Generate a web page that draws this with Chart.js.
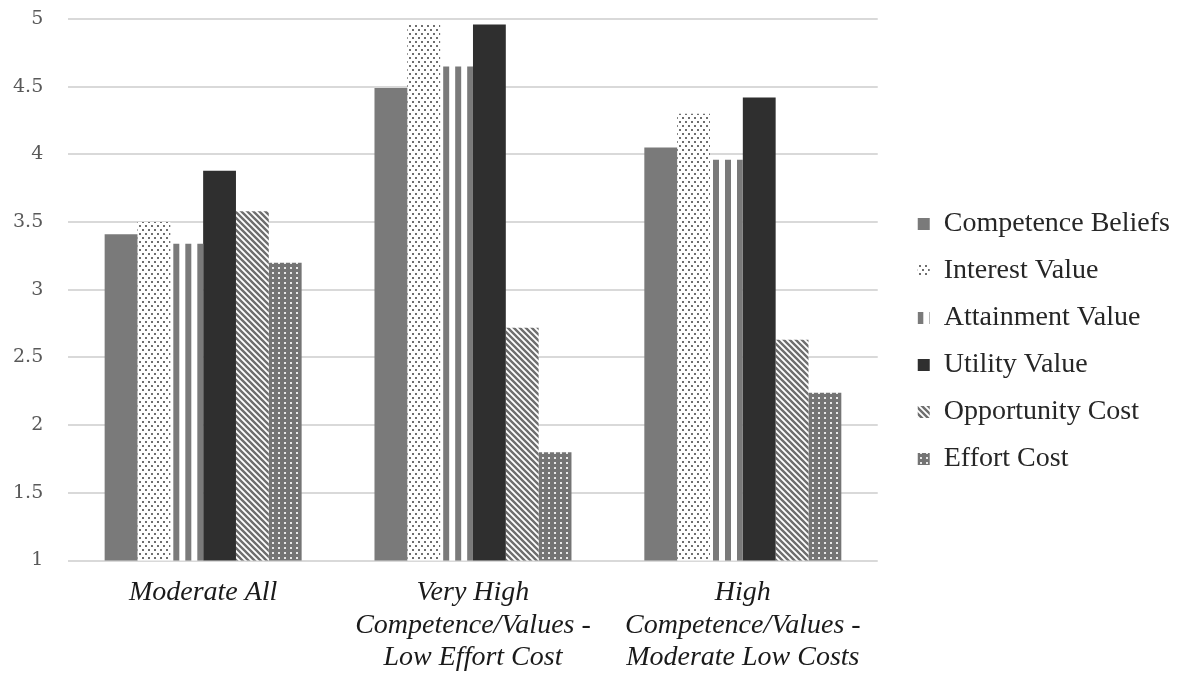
<!DOCTYPE html>
<html>
<head>
<meta charset="utf-8">
<script src="https://cdn.jsdelivr.net/npm/chart.js@4"></script>
<style>
  html, body { margin: 0; padding: 0; background: #fff; }
  #wrap { position: relative; width: 1183px; height: 677px; }
</style>
</head>
<body>
<div id="wrap"><canvas id="chart"></canvas></div>
<script>
const categories = [
    ['Moderate All'],
    ['Very High', 'Competence/Values -', 'Low Effort Cost'],
    ['High', 'Competence/Values -', 'Moderate Low Costs']
];
const seriesNames = ['Competence Beliefs', 'Interest Value', 'Attainment Value', 'Utility Value', 'Opportunity Cost', 'Effort Cost'];
const competence = [3.41, 4.49, 4.05];
const interest = [3.50, 4.96, 4.30];
const attainment = [3.34, 4.65, 3.96];
const utility = [3.88, 4.96, 4.42];
const opportunity = [3.58, 2.72, 2.63];
const effort = [3.20, 1.80, 2.24];
const yTicks = [1, 1.5, 2, 2.5, 3, 3.5, 4, 4.5, 5];

const CAT_PCT = 0.73;

// small tiles used as bar fills
function makeTile(w, h, draw) {
    const c = document.createElement('canvas');
    c.width = w;
    c.height = h;
    draw(c.getContext('2d'));
    return c;
}
function toPattern(tile) {
    return document.createElement('canvas').getContext('2d').createPattern(tile, 'repeat');
}

const solidGray = '#7a7a7a';
const dots = toPattern(makeTile(6, 8, function(g) {
    g.fillStyle = '#fff';
    g.fillRect(0, 0, 6, 8);
    g.fillStyle = '#6f6f6f';
    g.fillRect(1, 1, 2, 2);
    g.fillRect(4, 5, 2, 2);
}));
const stripeTile = makeTile(12, 4, function(g) {
    g.fillStyle = '#fff';
    g.fillRect(0, 0, 12, 4);
    g.fillStyle = '#7a7a7a';
    g.fillRect(3, 0, 6, 4);
});
const darkSolid = '#2f2f2f';
const diag = toPattern(makeTile(6, 6, function(g) {
    g.fillStyle = '#fff';
    g.fillRect(0, 0, 6, 6);
    g.strokeStyle = '#6e6e6e';
    g.lineWidth = 2.4;
    g.beginPath();
    g.moveTo(-3, -3); g.lineTo(9, 9);
    g.moveTo(-3, 3); g.lineTo(3, 9);
    g.moveTo(3, -3); g.lineTo(9, 3);
    g.stroke();
}));
const grid = toPattern(makeTile(6, 5, function(g) {
    g.fillStyle = '#747474';
    g.fillRect(0, 0, 6, 5);
    g.fillStyle = '#e8e8e8';
    g.fillRect(2, 2, 2, 2);
}));

// vertical stripes start at the left edge of each bar
function stripes(ctx) {
    const p = toPattern(stripeTile);
    const x = ctx.chart.scales.x;
    if (ctx.dataIndex === undefined || !x || !x.width) return p;
    const catW = x.width / categories.length;
    const barW = catW * CAT_PCT / seriesNames.length;
    const left = x.getPixelForValue(ctx.dataIndex) - catW * CAT_PCT / 2 + ctx.datasetIndex * barW;
    p.setTransform(new DOMMatrix().translate(left, 0));
    return p;
}

const fills = [solidGray, dots, stripes, darkSolid, diag, grid];
const values = [competence, interest, attainment, utility, opportunity, effort];

const datasets = seriesNames.map(function(name, i) {
    return {
        label: name,
        data: values[i],
        backgroundColor: fills[i],
        borderWidth: 0,
        categoryPercentage: CAT_PCT,
        barPercentage: 1.0
    };
});

// move the legend a bit away from the plot
const LEGEND_EXTRA = 24;
const LEGEND_SHIFT = 21;
const legendGap = {
    id: 'legendGap',
    beforeLayout: function(chart) {
        const lg = chart.legend;
        if (lg && !lg._gapPatched) {
            const fit = lg.fit.bind(lg);
            lg.fit = function() {
                fit();
                this.width += LEGEND_EXTRA;
            };
            lg._gapPatched = true;
        }
    },
    afterLayout: function(chart) {
        const lg = chart.legend;
        if (lg) {
            lg.left += LEGEND_SHIFT;
            lg.right += LEGEND_SHIFT;
            lg.top -= 9;
            lg.bottom -= 9;
        }
    }
};

new Chart(document.getElementById('chart').getContext('2d'), {
    type: 'bar',
    data: { labels: categories, datasets: datasets },
    plugins: [legendGap],
    options: {
        responsive: true,
        maintainAspectRatio: false,
        animation: false,
        layout: { padding: { top: 19, right: 0, left: -12, bottom: -5 } },
        plugins: {
            tooltip: { enabled: false },
            legend: {
                position: 'right',
                labels: {
                    boxWidth: 12,
                    boxHeight: 12,
                    padding: 19,
                    color: '#262626',
                    font: { family: '"Liberation Serif", "Times New Roman", serif', size: 28 }
                }
            }
        },
        scales: {
            x: {
                grid: { display: false },
                border: { display: false },
                ticks: {
                    color: '#1a1a1a',
                    maxRotation: 0,
                    autoSkip: false,
                    padding: 8,
                    font: { family: '"Liberation Serif", "Times New Roman", serif', size: 28, style: 'italic', lineHeight: 1.16 }
                }
            },
            y: {
                min: 1,
                max: 5,
                afterBuildTicks: function(axis) {
                    axis.ticks = yTicks.map(function(v) { return { value: v }; });
                },
                afterFit: function(axis) {
                    axis.paddingTop = 11;
                    axis.paddingBottom = 11;
                },
                grid: { color: '#d9d9d9', lineWidth: 2, drawTicks: false },
                border: { display: false },
                ticks: {
                    color: '#595959',
                    padding: 25,
                    font: { family: '"DejaVu Serif", serif', size: 19 },
                    callback: function(v) { return String(v); }
                }
            }
        }
    }
});
</script>
</body>
</html>
